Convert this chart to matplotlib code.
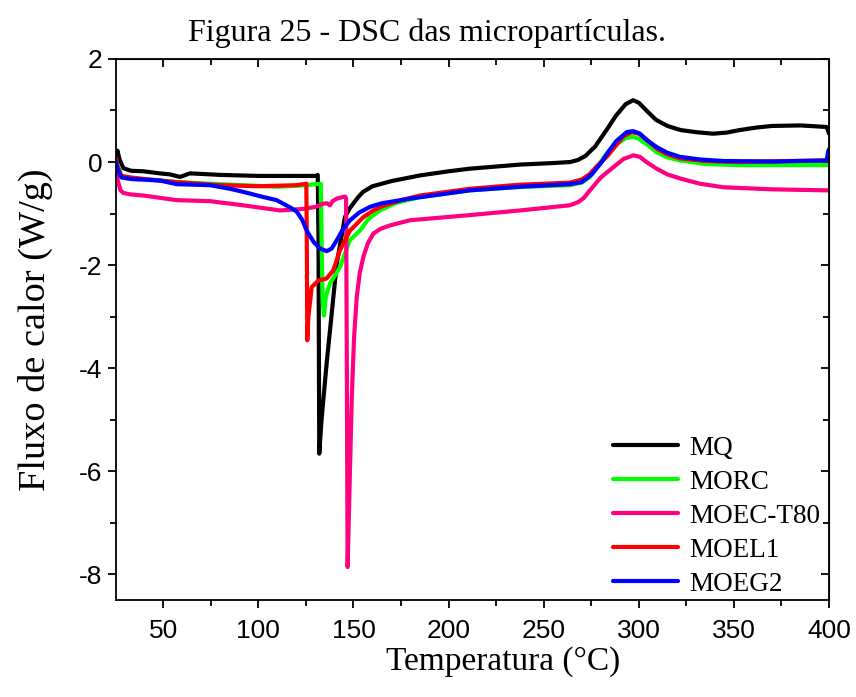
import matplotlib
matplotlib.use("Agg")
import matplotlib.pyplot as plt

plt.rcParams["axes.unicode_minus"] = False

# DSC curves: temperature (°C) and heat flow (W/g) for each sample
t_mq = [25.2, 25.9, 27, 29, 33, 39.5, 48, 53.5, 58.8, 64, 80, 100, 120, 130, 131.2, 131.6,
        132.0, 133.2, 135.9, 141.2, 145.5, 148, 150, 152.5, 155, 160, 170, 185, 200, 211,
        237.5, 255, 264, 268, 272, 277, 283, 288, 293, 297, 300, 304, 309, 315, 322, 330,
        339, 346, 353, 362, 370, 385, 398.8, 400]
q_mq = [0.05, 0.22, 0.05, -0.12, -0.17, -0.18, -0.22, -0.24, -0.29, -0.22, -0.25, -0.27, -0.27,
        -0.27, -0.25, -1.5, -5.66, -5.0, -3.9, -1.97, -1.07, -0.9, -0.8, -0.68, -0.58, -0.47,
        -0.37, -0.26, -0.18, -0.13, -0.05, -0.02, 0.0, 0.04, 0.12, 0.3, 0.62, 0.9, 1.12, 1.2,
        1.15, 1.0, 0.82, 0.7, 0.62, 0.58, 0.55, 0.57, 0.62, 0.67, 0.7, 0.71, 0.68, 0.55]

t_morc = [25.2, 26, 28, 33, 40, 57, 80, 110, 125, 132.8, 133.2, 133.8, 134.5, 135.5, 137.6,
          142.9, 148, 153.4, 158, 163.9, 172, 185, 211, 240, 263.7, 270, 274, 278, 283, 288,
          293, 297, 300, 304, 309.4, 315, 321.7, 335, 353, 380, 398.8, 400]
q_morc = [0.0, -0.05, -0.28, -0.32, -0.33, -0.39, -0.43, -0.48, -0.45, -0.42, -1.5, -2.7, -2.98,
          -2.6, -2.36, -2.04, -1.52, -1.33, -1.1, -0.94, -0.8, -0.68, -0.55, -0.48, -0.45, -0.4,
          -0.3, -0.1, 0.16, 0.34, 0.46, 0.49, 0.45, 0.35, 0.19, 0.09, 0.03, -0.04, -0.06,
          -0.06, -0.06, -0.06]

t_moec = [25.2, 26, 27.5, 29, 33, 39.5, 57, 74.6, 92, 111.4, 123.6, 130, 134.1, 136, 137.6, 139,
          141.2, 145.5, 146.1, 146.5, 146.9, 147.8, 149.1, 150.3, 151.7, 153.3, 155.2, 157.5,
          160.4, 164, 169.2, 179.7, 211.2, 237.5, 263.7, 268, 271, 274.3, 280, 286.6, 292,
          297.2, 300.5, 304, 309.4, 315, 321.7, 332, 344.4, 370, 398.8, 400]
q_moec = [-0.1, -0.35, -0.55, -0.6, -0.63, -0.65, -0.74, -0.76, -0.84, -0.94, -0.91, -0.87,
          -0.81, -0.8, -0.84, -0.76, -0.71, -0.67, -0.7, -4.0, -7.86, -6.5, -4.56, -3.4, -2.62,
          -2.15, -1.84, -1.58, -1.39, -1.3, -1.23, -1.13, -1.03, -0.94, -0.84, -0.78, -0.7,
          -0.55, -0.3, -0.1, 0.06, 0.13, 0.1, 0.0, -0.13, -0.24, -0.32, -0.42, -0.49, -0.53,
          -0.55, -0.55]

t_moel = [25.2, 26, 28, 33, 40, 57, 79.8, 100, 120, 125.2, 125.5, 125.7, 126.3, 128, 131.5,
          135.9, 139.4, 142.9, 148.2, 155.2, 160, 165, 175, 185, 211, 237.5, 263.7, 270, 274,
          278, 283.1, 288, 292, 296.3, 300, 304, 309.4, 315, 321.7, 335, 353.2, 380, 398.8, 400]
q_moel = [0.07, -0.1, -0.27, -0.3, -0.33, -0.39, -0.45, -0.47, -0.45, -0.42, -1.8, -3.46, -3.0,
          -2.43, -2.3, -2.26, -2.1, -1.71, -1.33, -1.07, -0.95, -0.86, -0.74, -0.65, -0.52,
          -0.44, -0.4, -0.34, -0.24, -0.08, 0.1, 0.32, 0.5, 0.58, 0.55, 0.44, 0.26, 0.15, 0.07,
          0.02, 0.0, 0.02, 0.03, 0.03]

t_moeg = [25.2, 26, 28, 33, 48.3, 57, 74.6, 85.1, 92.1, 102.6, 109.6, 116.6, 120.1, 123, 125.4,
          129, 132.4, 135.9, 138.5, 141.2, 144.5, 148.2, 153, 158.7, 165, 179.7, 211.2, 237.5,
          263.7, 270, 275, 279.9, 284, 288, 293.6, 297, 300.6, 304, 309.4, 315, 321.7, 332,
          344.4, 370, 398.8, 399.5, 400]
q_moeg = [0.0, -0.15, -0.3, -0.33, -0.36, -0.43, -0.45, -0.52, -0.58, -0.68, -0.74, -0.88,
          -0.96, -1.12, -1.33, -1.55, -1.68, -1.73, -1.68, -1.52, -1.3, -1.13, -0.98, -0.87,
          -0.8, -0.71, -0.55, -0.48, -0.43, -0.39, -0.25, -0.03, 0.2, 0.4, 0.58, 0.6, 0.55,
          0.43, 0.29, 0.18, 0.1, 0.05, 0.02, 0.01, 0.03, 0.2, 0.25]

labels = ["MQ", "MORC", "MOEC-T80", "MOEL1", "MOEG2"]
colors = ["#000000", "#00ff00", "#ff0080", "#ff0000", "#0000ff"]

serif = ["Liberation Serif", "DejaVu Serif"]
sans = ["Liberation Sans", "DejaVu Sans"]

fig = plt.figure(figsize=(8.56, 6.97), dpi=100)
ax = fig.add_axes([0.1352, 0.1392, 0.9685 - 0.1352, 0.9154 - 0.1392])

series = [(t_mq, q_mq), (t_morc, q_morc), (t_moec, q_moec), (t_moel, q_moel), (t_moeg, q_moeg)]
for (t, q), lab, c in zip(series, labels, colors):
    ax.plot(t, q, color=c, lw=3, label=lab, solid_joinstyle="round", solid_capstyle="round")

xmaj = [50, 100, 150, 200, 250, 300, 350, 400]
xmin = [75, 125, 175, 225, 275, 325, 375]
ymaj = [2, 0, -2, -4, -6, -8]
ymin = [1, -1, -3, -5, -7]

ax.set_xlim(25, 400)
ax.set_ylim(-8.5, 2)
ax.set_xticks(xmaj)
ax.set_xticks(xmin, minor=True)
ax.set_yticks(ymaj)
ax.set_yticks(ymin, minor=True)
ax.tick_params(which="both", direction="out", width=1.3, labelsize=19)
ax.tick_params(which="major", length=6)
ax.tick_params(which="minor", length=4)
ax.tick_params(axis="x", pad=8)
for lbl in ax.get_xticklabels() + ax.get_yticklabels():
    lbl.set_family(sans)
for s in ax.spines.values():
    s.set_linewidth(1.3)

# inward ticks on the top and right edges
top = ax.secondary_xaxis("top")
top.set_xticks(xmaj)
top.set_xticks(xmin, minor=True)
top.tick_params(which="both", direction="in", labeltop=False, width=1.3)
top.tick_params(which="major", length=6)
top.tick_params(which="minor", length=4)
right = ax.secondary_yaxis("right")
right.set_yticks(ymaj)
right.set_yticks(ymin, minor=True)
right.tick_params(which="both", direction="in", labelright=False, width=1.3)
right.tick_params(which="major", length=6)
right.tick_params(which="minor", length=4)

ax.set_xlabel("Temperatura (°C)", family=serif, fontsize=24, labelpad=2)
ax.xaxis.label.set_x(0.543)
ax.set_ylabel("Fluxo de calor (W/g)", family=serif, fontsize=27.5)
ax.yaxis.set_label_coords(-0.088, 0.5)

ax.legend(loc="lower right", frameon=False, prop={"family": serif, "size": 19.5},
          handlelength=2.4, handletextpad=0.4, labelspacing=0.33,
          borderaxespad=0.2, bbox_to_anchor=(1.01, -0.024))

fig.text(0.499, 0.953, "Figura 25 - DSC das micropartículas.", family=serif,
         fontsize=23, ha="center", va="center")

fig.savefig("out.png", dpi=100)
